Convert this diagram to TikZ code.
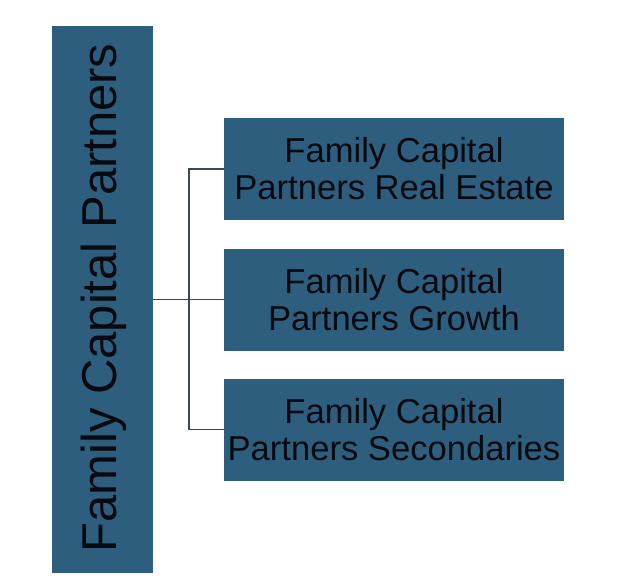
\documentclass[tikz,border=0pt]{standalone}
\usepackage{fontspec}
\setmainfont{Liberation Sans}
\definecolor{boxblue}{RGB}{46,94,126}
\definecolor{linegray}{RGB}{60,72,84}
\definecolor{txt}{RGB}{8,10,16}
\begin{document}
\begin{tikzpicture}[x=1pt,y=-1pt,
  bluebox/.style={rectangle,fill=boxblue,inner sep=0pt,text=txt,align=center},
  subbox/.style={bluebox,minimum width=340pt,minimum height=102pt,font=\fontsize{34.6}{37}\selectfont},
  conn/.style={draw=linegray,line width=1.3pt}]
\useasboundingbox (0,0) rectangle (640,587);
\node[bluebox,minimum width=101pt,minimum height=547pt] (top) at (102.5,299.5) {};
\node[text=txt,rotate=90,inner sep=0pt,font=\fontsize{49}{55}\selectfont] (toplabel) at (103.5,298) {Family Capital Partners};
\node[subbox] (r1) at (394,169) {Family Capital\\Partners Real Estate};
\node[subbox] (r2) at (394,299.5) {Family Capital\\Partners Growth};
\node[subbox] (r3) at (394,429.5) {Family Capital\\Partners Secondaries};
\coordinate (j) at (189,300);
\draw[conn] (top.east |- r2.west) -- (r2.west);
\draw[conn] (r1.west) -- (j |- r1.west) -- (j |- r3.west) -- (r3.west);
\end{tikzpicture}
\end{document}
